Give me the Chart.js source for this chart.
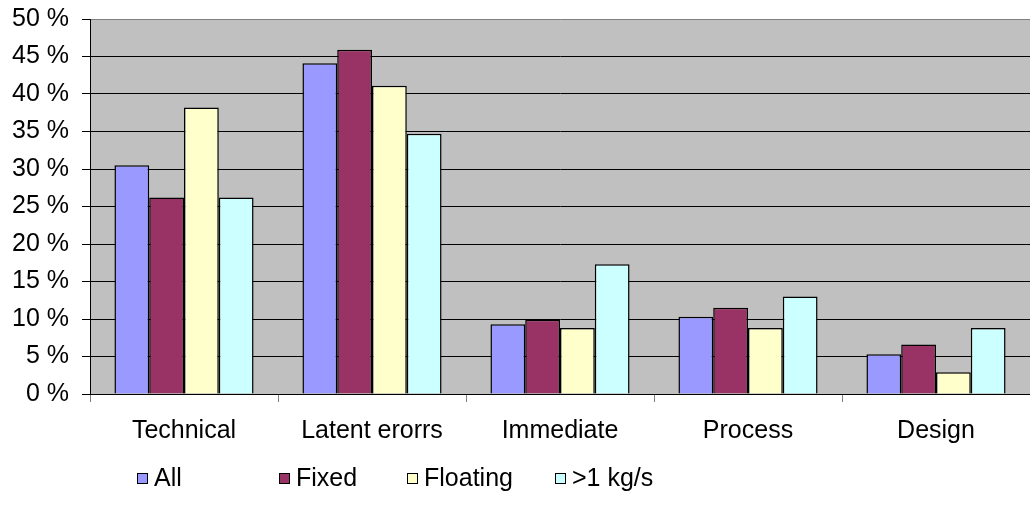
<!DOCTYPE html>
<html>
<head>
<meta charset="utf-8">
<script src="https://cdn.jsdelivr.net/npm/chart.js@4/dist/chart.umd.min.js"></script>
<style>
  html, body { margin: 0; padding: 0; background: #fff; }
  #wrap { position: relative; width: 1030px; height: 516px; }
  #legend { position: absolute; top: 462px; left: 0; font: 25px "Liberation Sans", Arial, sans-serif; color: #000; }
  #legend span.item { position: absolute; white-space: nowrap; line-height: 30px; }
  #legend span.box { display: inline-block; width: 9px; height: 9px; border: 1px solid #000; margin-right: 6px; vertical-align: 2px; }
</style>
</head>
<body>
<div id="wrap">
  <canvas id="myChart" width="1030" height="516"></canvas>
  <div id="legend"></div>
</div>
<script>
'use strict';

const categories = ['Technical', 'Latent erorrs', 'Immediate', 'Process', 'Design'];
const seriesNames = ['All', 'Fixed', 'Floating', '>1 kg/s'];
const allValues = [30.5, 44.1, 9.3, 10.3, 5.3];
const fixedValues = [26.2, 45.9, 9.9, 11.5, 6.6];
const floatingValues = [38.2, 41.1, 8.8, 8.8, 2.9];
const flowValues = [26.2, 34.7, 17.3, 13.0, 8.8];
const seriesColors = ['#9999FF', '#993366', '#FFFFCC', '#CCFFFF'];
const legendLeft = [137, 279, 407, 555];

const plotBg = {
    id: 'plotBg',
    beforeDraw: function(chart){
        const a = chart.chartArea;
        const c = chart.ctx;
        c.save();
        c.fillStyle = '#C0C0C0';
        c.fillRect(a.left, a.top, a.right - a.left, a.bottom - a.top);
        c.restore();
    }
};

const seriesValues = [allValues, fixedValues, floatingValues, flowValues];
const ctx = document.getElementById('myChart');
var myChart = new Chart(ctx, {
    type: 'bar',
    data: {
        labels: categories,
        datasets: seriesNames.map(function(name, i){
            return {
                label: name,
                data: seriesValues[i],
                backgroundColor: seriesColors[i],
                borderColor: '#000000',
                borderWidth: 1.5,
                barPercentage: 1.0,
                categoryPercentage: 0.74
            };
        })
    },
    options: {
        responsive: false,
        animation: false,
        layout: { padding: { top: 19, right: 0, bottom: 62, left: 0 } },
        plugins: {
            legend: { display: false },
            tooltip: { enabled: false }
        },
        scales: {
            x: {
                grid: {
                    offset: true,
                    drawOnChartArea: false,
                    color: '#808080',
                    tickLength: 8
                },
                border: { color: '#000000', width: 1 },
                ticks: {
                    color: '#000',
                    padding: 14,
                    font: { family: '"Liberation Sans", Arial', size: 25 }
                },
                afterFit: function(scale){
                    scale.height = 60;
                    scale.paddingLeft = 0;
                    scale.paddingRight = 0;
                }
            },
            y: {
                min: 0,
                max: 50,
                ticks: {
                    stepSize: 5,
                    color: '#000',
                    padding: 13,
                    font: { family: '"Liberation Sans", Arial', size: 25 },
                    callback: function(v){ return v + ' %'; }
                },
                grid: {
                    color: function(c){ return c.tick && c.tick.value === 50 ? '#808080' : '#000000'; },
                    tickColor: '#000000',
                    tickLength: 8,
                    lineWidth: 1
                },
                border: { color: '#000000', width: 1 },
                afterFit: function(scale){
                    scale.width = 90;
                    scale.paddingTop = 0;
                    scale.paddingBottom = 0;
                }
            }
        }
    },
    plugins: [plotBg]
});

// legend, Excel style spacing
var lg = document.getElementById('legend');
seriesNames.forEach(function(name, i){
    var item = document.createElement('span');
    item.className = 'item';
    item.style.left = legendLeft[i] + 'px';
    var box = document.createElement('span');
    box.className = 'box';
    box.style.background = seriesColors[i];
    item.appendChild(box);
    item.appendChild(document.createTextNode(name));
    lg.appendChild(item);
});
</script>
</body>
</html>
